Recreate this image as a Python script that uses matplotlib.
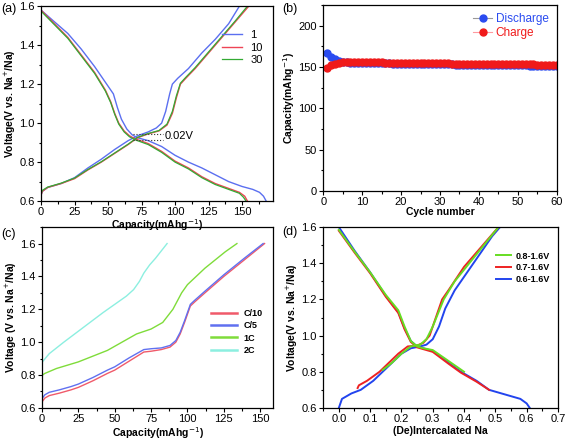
import matplotlib.pyplot as plt
from matplotlib.ticker import MultipleLocator

plt.rcParams['font.family'] = ['Liberation Sans', 'DejaVu Sans']
plt.rcParams['font.size'] = 8

# (a) charge / discharge profiles, cycles 1, 10, 30
a_dis1_cap = [0, 5, 10, 20, 30, 40, 50, 54, 57, 60, 64, 68, 72, 80, 90, 100, 110, 120, 130, 140, 150, 158, 163, 166, 168]
a_dis1_v = [1.58, 1.55, 1.52, 1.46, 1.38, 1.29, 1.19, 1.15, 1.08, 1.02, 0.97, 0.94, 0.925, 0.91, 0.88, 0.835, 0.80, 0.77,
            0.735, 0.70, 0.675, 0.66, 0.645, 0.625, 0.60]
a_chg1_cap = [0, 1, 5, 15, 25, 35, 45, 55, 65, 72, 80, 86, 90, 93, 96, 98, 102, 110, 120, 130, 140, 148]
a_chg1_v = [0.63, 0.65, 0.67, 0.69, 0.72, 0.77, 0.815, 0.865, 0.91, 0.935, 0.955, 0.975, 1.00, 1.06, 1.15, 1.20, 1.23,
            1.28, 1.36, 1.43, 1.51, 1.60]
a_dis10_cap = [0, 10, 20, 30, 40, 48, 52, 55, 58, 62, 66, 70, 80, 90, 100, 110, 120, 130, 140, 148, 152, 154]
a_dis10_v = [1.58, 1.51, 1.44, 1.35, 1.26, 1.17, 1.11, 1.05, 1.00, 0.96, 0.935, 0.92, 0.895, 0.855, 0.805, 0.77, 0.725,
             0.69, 0.665, 0.645, 0.625, 0.60]
a_chg10_cap = [0, 1, 5, 15, 25, 35, 45, 55, 65, 72, 80, 88, 94, 98, 101, 104, 108, 115, 125, 135, 145, 155]
a_chg10_v = [0.63, 0.65, 0.67, 0.69, 0.715, 0.76, 0.80, 0.845, 0.89, 0.925, 0.945, 0.96, 0.99, 1.05, 1.13, 1.20, 1.23,
             1.28, 1.36, 1.44, 1.52, 1.60]
a_dis30_cap = [0, 10, 20, 30, 40, 48, 52, 55, 58, 62, 66, 70, 80, 90, 100, 110, 120, 130, 140, 148, 151, 153]
a_dis30_v = [1.575, 1.505, 1.435, 1.345, 1.255, 1.165, 1.105, 1.045, 0.995, 0.955, 0.93, 0.915, 0.89, 0.85, 0.80, 0.765,
             0.72, 0.685, 0.66, 0.64, 0.62, 0.60]
a_chg30_cap = [0, 1, 5, 15, 25, 35, 45, 55, 65, 72, 80, 88, 94, 98, 101, 104, 108, 115, 125, 135, 145, 154]
a_chg30_v = [0.635, 0.655, 0.672, 0.692, 0.718, 0.762, 0.802, 0.847, 0.892, 0.927, 0.947, 0.962, 0.995, 1.06, 1.14, 1.205,
             1.235, 1.285, 1.365, 1.445, 1.525, 1.60]
gap_cap = [69, 91]
gap_v_hi = [0.945, 0.945]
gap_v_lo = [0.915, 0.915]

# (b) cycling
cycles = list(range(1, 61))
discharge = [167, 162, 159, 157, 156, 155.5, 155.2, 155, 154.9, 154.8, 154.7, 154.6, 154.5, 154.4, 154.3, 154.2,
             154.1, 154, 153.9, 153.8, 153.8, 153.7, 153.6, 153.5, 153.5, 153.4, 153.3, 153.2, 153.2, 153.1,
             153, 153, 152.9, 152.8, 152.8, 152.7, 152.6, 152.6, 152.5, 152.4, 152.4, 152.3, 152.2, 152.2, 152.1,
             152, 152, 151.9, 151.9, 151.8, 151.7, 151.7, 151.6, 151.6, 151.5, 151.4, 151.4, 151.3, 151.3, 151.2]
charge = [149, 152, 154, 155, 155.5, 155.8, 156, 156, 156, 155.9, 155.8, 155.7, 155.6, 155.5, 155.4, 155.3,
          155.2, 155.1, 155, 154.9, 154.8, 154.8, 154.7, 154.6, 154.5, 154.5, 154.4, 154.3, 154.3, 154.2,
          154.1, 154.1, 154, 153.9, 153.9, 153.8, 153.8, 153.7, 153.6, 153.6, 153.5, 153.5, 153.4, 153.4, 153.3,
          153.3, 153.2, 153.2, 153.1, 153.1, 153, 153, 152.9, 152.9, 152.8, 152.8, 152.7, 152.7, 152.6, 152.6]

# (c) rate capability, charge curves
c_c10_cap = [0, 0.3, 2, 5, 12, 20, 25, 35, 45, 50, 60, 70, 75, 82, 88, 92, 95, 98, 100, 102, 105, 112, 125, 139, 153]
c_c10_v = [0.60, 0.64, 0.66, 0.675, 0.69, 0.71, 0.725, 0.765, 0.81, 0.83, 0.885, 0.94, 0.945, 0.955, 0.97, 1.00,
           1.05, 1.12, 1.17, 1.22, 1.245, 1.30, 1.40, 1.50, 1.60]
c_c5_cap = [0, 0.3, 2, 5, 12, 20, 25, 35, 45, 50, 60, 70, 75, 82, 88, 92, 95, 98, 100, 102, 105, 112, 125, 139, 152]
c_c5_v = [0.62, 0.66, 0.68, 0.695, 0.71, 0.73, 0.745, 0.785, 0.83, 0.85, 0.905, 0.955, 0.96, 0.965, 0.98, 1.01,
          1.06, 1.13, 1.18, 1.23, 1.255, 1.31, 1.41, 1.51, 1.60]
c_1c_cap = [0, 0.3, 2, 10, 25, 45, 55, 65, 75, 83, 90, 96, 100, 112, 126, 134]
c_1c_v = [0.72, 0.80, 0.81, 0.84, 0.88, 0.95, 1.00, 1.05, 1.08, 1.12, 1.20, 1.30, 1.35, 1.45, 1.55, 1.60]
c_2c_cap = [0, 0.3, 5, 15, 30, 42, 50, 58, 63, 67, 70, 74, 78, 86]
c_2c_v = [0.80, 0.88, 0.93, 1.00, 1.10, 1.18, 1.23, 1.28, 1.32, 1.37, 1.42, 1.47, 1.51, 1.60]

# (d) voltage windows
d_b_dis_x = [0, 0.05, 0.1, 0.15, 0.19, 0.21, 0.23, 0.25, 0.27, 0.3, 0.35, 0.39, 0.44, 0.48, 0.52, 0.58, 0.6, 0.61]
d_b_dis_v = [1.60, 1.47, 1.35, 1.22, 1.13, 1.04, 0.97, 0.94, 0.93, 0.915, 0.85, 0.80, 0.75, 0.70, 0.68, 0.65, 0.625, 0.60]
d_b_chg_x = [0, 0.01, 0.04, 0.07, 0.11, 0.14, 0.17, 0.2, 0.23, 0.26, 0.28, 0.3, 0.32, 0.34, 0.355, 0.37, 0.41, 0.45, 0.49, 0.515]
d_b_chg_v = [0.60, 0.65, 0.68, 0.70, 0.75, 0.80, 0.85, 0.90, 0.93, 0.94, 0.95, 0.98, 1.05, 1.15, 1.20, 1.25, 1.35,
             1.45, 1.55, 1.60]
d_r_dis_x = [0, 0.05, 0.1, 0.15, 0.19, 0.21, 0.23, 0.25, 0.27, 0.3, 0.35, 0.39, 0.44, 0.48]
d_r_dis_v = [1.58, 1.46, 1.345, 1.215, 1.125, 1.035, 0.965, 0.935, 0.925, 0.91, 0.845, 0.795, 0.745, 0.70]
d_r_chg_x = [0.06, 0.064, 0.09, 0.13, 0.16, 0.19, 0.22, 0.25, 0.27, 0.29, 0.31, 0.33, 0.35, 0.4, 0.46, 0.51]
d_r_chg_v = [0.71, 0.725, 0.75, 0.80, 0.85, 0.90, 0.94, 0.945, 0.96, 1.00, 1.10, 1.20, 1.25, 1.38, 1.50, 1.60]
d_g_dis_x = [0, 0.05, 0.1, 0.15, 0.19, 0.21, 0.23, 0.25, 0.27, 0.3, 0.35, 0.4]
d_g_dis_v = [1.585, 1.465, 1.35, 1.225, 1.14, 1.05, 0.97, 0.94, 0.93, 0.92, 0.86, 0.80]
d_g_chg_x = [0.14, 0.17, 0.2, 0.23, 0.26, 0.28, 0.3, 0.335, 0.37, 0.44, 0.51]
d_g_chg_v = [0.81, 0.85, 0.90, 0.94, 0.95, 0.98, 1.05, 1.20, 1.30, 1.45, 1.60]


def style(ax, xmaj, ymaj):
    ax.xaxis.set_major_locator(MultipleLocator(xmaj))
    ax.xaxis.set_minor_locator(MultipleLocator(xmaj / 2))
    ax.yaxis.set_major_locator(MultipleLocator(ymaj))
    ax.yaxis.set_minor_locator(MultipleLocator(ymaj / 2))
    ax.tick_params(which='major', direction='out', length=3, width=0.8, labelsize=8, pad=1.5)
    ax.tick_params(which='minor', direction='out', length=1.8, width=0.8)
    for s in ax.spines.values():
        s.set_linewidth(0.9)


lab = dict(fontweight='bold', fontsize=7.5)

fig = plt.figure(figsize=(5.67, 4.41), dpi=100)

# (c) -- drawn first so the labels of the upper panels stay on top
ax = fig.add_axes([0.074, 0.075, 0.408, 0.410])
ax.plot(c_c10_cap, c_c10_v, color='#f05a6a', lw=1, label='C/10')
ax.plot(c_c5_cap, c_c5_v, color='#6070f0', lw=1, label='C/5')
ax.plot(c_1c_cap, c_1c_v, color='#7fdc3a', lw=1, label='1C')
ax.plot(c_2c_cap, c_2c_v, color='#8cefe0', lw=1, label='2C')
ax.set_xlim(0, 159)
ax.set_ylim(0.6, 1.7)
style(ax, 25, 0.2)
ax.set_yticks([0.6, 0.8, 1.0, 1.2, 1.4, 1.6])
ax.set_xlabel('Capacity(mAhg$^{-1}$)', labelpad=1, **lab)
ax.set_ylabel('Voltage (V vs. Na$^{+}$/Na)', labelpad=1, **lab)
leg = ax.legend(loc='center right', bbox_to_anchor=(0.99, 0.42), frameon=False, handlelength=2.8,
                labelspacing=0.35, prop={'weight': 'bold', 'size': 6.5})
for h in leg.get_lines():
    h.set_linewidth(1.8)
fig.text(0.003, 0.462, '(c)', fontsize=9)

# (d)
ax = fig.add_axes([0.570, 0.075, 0.414, 0.410])
ax.plot(d_b_dis_x, d_b_dis_v, color='#2244ee', lw=1.4, label='0.6-1.6V')
ax.plot(d_b_chg_x, d_b_chg_v, color='#2244ee', lw=1.4)
ax.plot(d_r_dis_x, d_r_dis_v, color='#ee2222', lw=1.4, label='0.7-1.6V')
ax.plot(d_r_chg_x, d_r_chg_v, color='#ee2222', lw=1.4)
ax.plot(d_g_dis_x, d_g_dis_v, color='#66dd22', lw=1.4, label='0.8-1.6V')
ax.plot(d_g_chg_x, d_g_chg_v, color='#66dd22', lw=1.4)
ax.set_xlim(-0.05, 0.7)
ax.set_ylim(0.6, 1.6)
style(ax, 0.1, 0.2)
ax.set_xlabel('(De)Intercalated Na', labelpad=1, **lab)
ax.set_ylabel('Voltage(V vs. Na$^{+}$/Na)', labelpad=1, **lab)
hs, ls = ax.get_legend_handles_labels()
ax.legend(hs[::-1], ls[::-1], loc='upper right', bbox_to_anchor=(1.0, 0.91), frameon=False,
          handlelength=1.6, handletextpad=0.5, labelspacing=0.3, prop={'weight': 'bold', 'size': 6.5})
fig.text(0.497, 0.468, '(d)', fontsize=9)

# (a)
ax = fig.add_axes([0.0723, 0.544, 0.409, 0.442])
l1, = ax.plot(a_dis1_cap, a_dis1_v, color='#5b6ff0', lw=1)
ax.plot(a_chg1_cap, a_chg1_v, color='#5b6ff0', lw=1)
l10, = ax.plot(a_dis10_cap, a_dis10_v, color='#ee4455', lw=1)
ax.plot(a_chg10_cap, a_chg10_v, color='#ee4455', lw=1)
l30, = ax.plot(a_dis30_cap, a_dis30_v, color='#33aa33', lw=0.9)
ax.plot(a_chg30_cap, a_chg30_v, color='#33aa33', lw=0.9)
ax.plot(gap_cap, gap_v_hi, ':', color='#333333', lw=0.8)
ax.plot(gap_cap, gap_v_lo, ':', color='#333333', lw=0.8)
ax.text(gap_cap[1] + 1, 0.932, '0.02V', fontsize=8, va='center')
ax.set_xlim(0, 173)
ax.set_ylim(0.6, 1.6)
style(ax, 25, 0.2)
ax.set_xlabel('Capacity(mAhg$^{-1}$)', labelpad=0, **lab)
ax.set_ylabel('Voltage(V vs. Na$^{+}$/Na)', labelpad=1, **lab)
ax.legend([l1, l10, l30], ['1', '10', '30'], loc='upper right', bbox_to_anchor=(1.0, 0.93),
          frameon=False, fontsize=8, handlelength=1.8, labelspacing=0.25)
fig.text(0.003, 0.972, '(a)', fontsize=9)

# (b)
ax = fig.add_axes([0.570, 0.567, 0.412, 0.422])
ax.plot(cycles, discharge, '-o', color='#999999', lw=0.8, mfc='#2a4bf0', mec='#2a4bf0', ms=5,
        label='Discharge')
ax.plot(cycles, charge, '-o', color='#ff9aa0', lw=0.8, mfc='#f01a1a', mec='#f01a1a', ms=5,
        label='Charge')
ax.set_xlim(0, 60)
ax.set_ylim(0, 225)
style(ax, 10, 50)
ax.set_xlabel('Cycle number', labelpad=0, **lab)
ax.set_ylabel('Capacity(mAhg$^{-1}$)', labelpad=1, **lab)
leg = ax.legend(loc='upper right', frameon=False, fontsize=8.5, handlelength=1.6, labelspacing=0.15,
                handletextpad=0.3, borderaxespad=0.3)
for t, c in zip(leg.get_texts(), ['#2a4bf0', '#f01a1a']):
    t.set_color(c)
fig.text(0.497, 0.972, '(b)', fontsize=9)

fig.savefig('out.png', dpi=100)
